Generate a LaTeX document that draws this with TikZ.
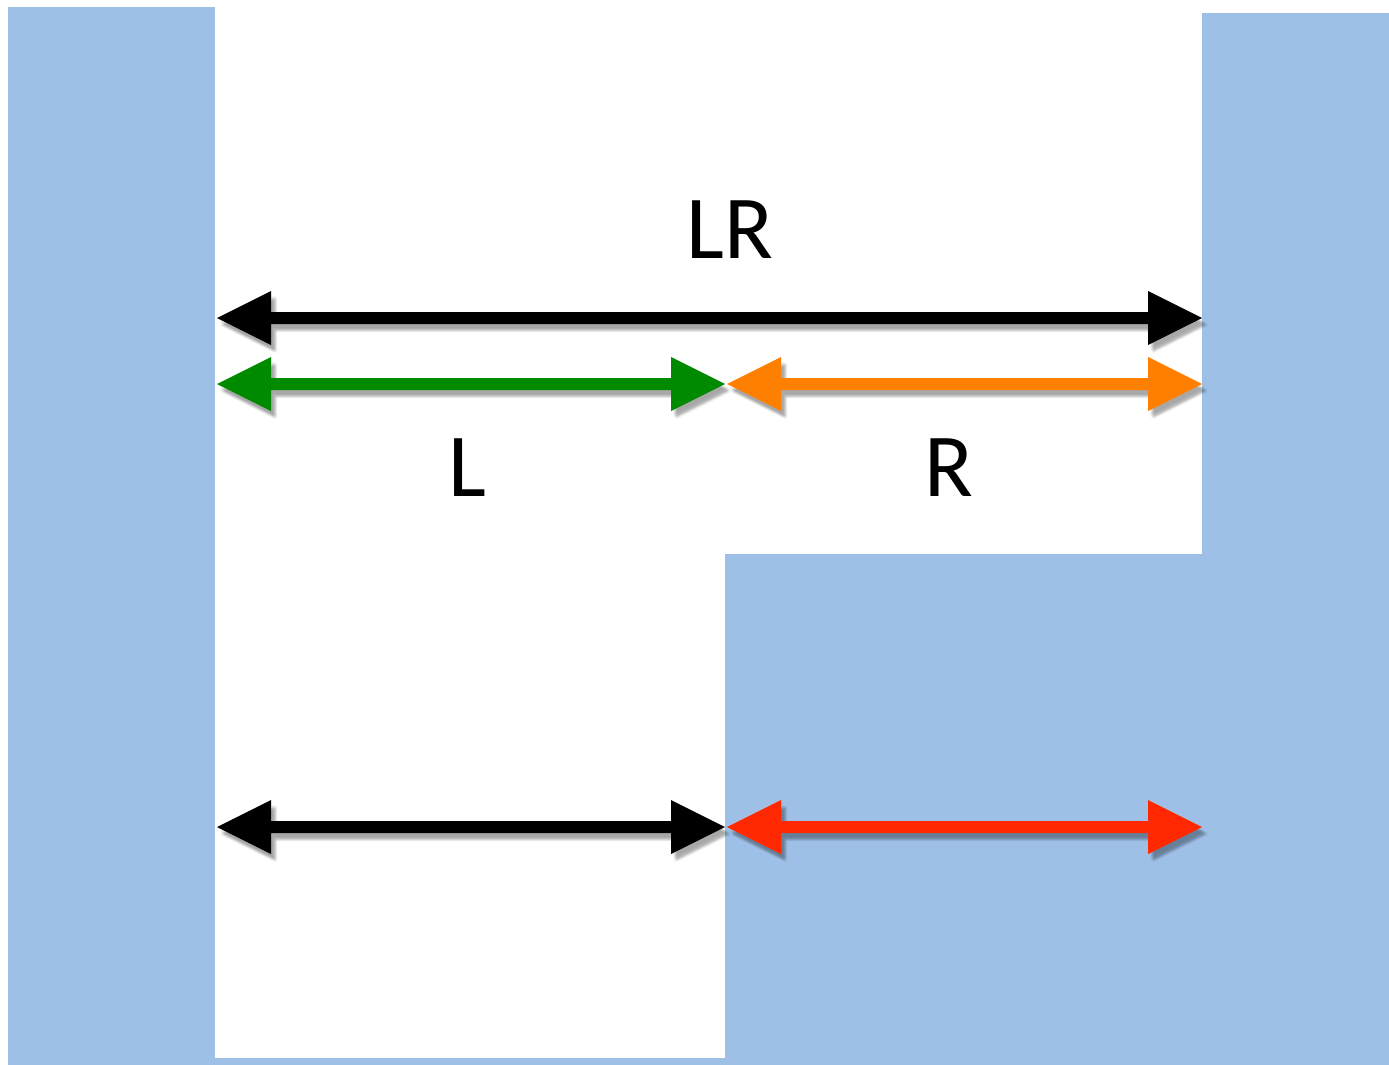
\documentclass[tikz,border=0pt]{standalone}
\usepackage{fontspec}
\setmainfont{Carlito}
\definecolor{wallblue}{RGB}{158,192,230}
\definecolor{arrgreen}{RGB}{0,138,0}
\definecolor{arrorange}{RGB}{255,128,0}
\definecolor{arrred}{RGB}{255,40,0}
\tikzset{
  wall/.style={fill=wallblue},
  lbl/.style={inner sep=0pt, font=\fontsize{90}{90}\selectfont},
  shadowpart/.style={fill=black, opacity=0.045}
}
% double-headed dimension arrow as polygon: #1 left x, #2 right x, #3 y
\newcommand\dblarrowpath[3]{(#1,#3) -- (#1+54,#3-27) -- (#1+54,#3-6) -- (#2-54,#3-6) -- (#2-54,#3-27) -- (#2,#3) -- (#2-54,#3+27) -- (#2-54,#3+6) -- (#1+54,#3+6) -- (#1+54,#3+27) -- cycle}
\newcommand\dblarrowshadow[3]{%
  \foreach \dx/\dy in {2/4,3/5,4/6,5/7,6/8,3/7,5/5,4/8,6/6}{%
    \fill[shadowpart, shift={(\dx,\dy)}] \dblarrowpath{#1}{#2}{#3};}}
\begin{document}
\begin{tikzpicture}[x=1pt,y=-1pt]
\useasboundingbox (0,0) rectangle (1389,1065);
\fill[white] (0,0) rectangle (1389,1065);
% walls
\fill[wall] (8,7) rectangle (215,1065);
\fill[wall] (1202,13) rectangle (1389,1065);
\fill[wall] (725,554) rectangle (1202,1065);
\fill[wall] (215,1058) rectangle (725,1065);
% shadows
\dblarrowshadow{217}{1202}{318}
\dblarrowshadow{217}{725}{384}
\dblarrowshadow{727}{1202}{384}
\dblarrowshadow{217}{725}{827}
\dblarrowshadow{727}{1202}{827}
% arrows
\fill[black] \dblarrowpath{217}{1202}{318};
\fill[arrgreen] \dblarrowpath{217}{725}{384};
\fill[arrorange] \dblarrowpath{727}{1202}{384};
\fill[black] \dblarrowpath{217}{725}{827};
\fill[arrred] \dblarrowpath{727}{1202}{827};
% labels
\node[lbl] (LR) at (730,230) {LR};
\node[lbl] (L) at (467,468) {L};
\node[lbl] (R) at (949,468) {R};
\end{tikzpicture}
\end{document}
